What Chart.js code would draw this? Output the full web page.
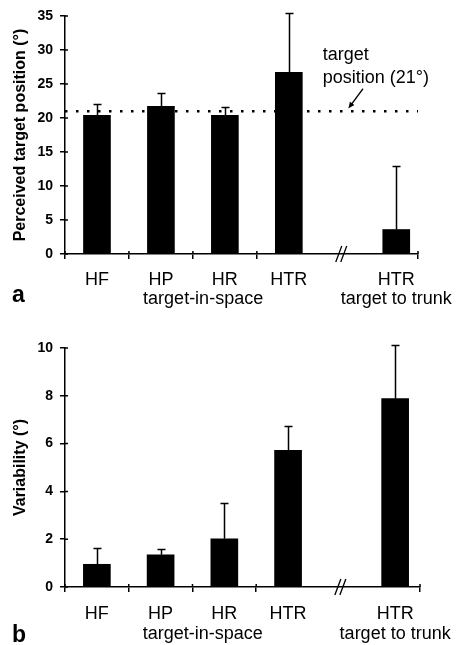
<!DOCTYPE html>
<html>
<head>
<meta charset="utf-8">
<script src="https://cdn.jsdelivr.net/npm/chart.js@4.4.1/dist/chart.umd.min.js"></script>
<style>
  html, body { margin: 0; padding: 0; background: #fff; }
  #wrap { width: 462px; height: 645px; }
  canvas { display: block; }
</style>
</head>
<body>
<div id="wrap">
  <canvas id="chartA" width="462" height="320"></canvas>
  <canvas id="chartB" width="462" height="325"></canvas>
</div>
<script>
// --- data ---
const categories = ['HF', 'HP', 'HR', 'HTR', 'HTR'];
const categoryPos = [0.5, 1.5, 2.5, 3.5, 5.18];
const groupLabels = ['target-in-space', 'target to trunk'];
const groupPos = [2.16, 5.18];
const breakPos = 4.32;

const perceivedMean = [20.4, 21.7, 20.4, 26.7, 3.6];
const perceivedSD = [1.7, 2.0, 1.2, 8.7, 9.4];
const perceivedTicks = [0, 5, 10, 15, 20, 25, 30, 35];
const targetPosition = 21;

const variabilityMean = [0.95, 1.35, 2.02, 5.72, 7.88];
const variabilitySD = [0.68, 0.25, 1.5, 1.0, 2.25];
const variabilityTicks = [0, 2, 4, 6, 8, 10];

const FONT = '"Liberation Sans", Arial, Helvetica, sans-serif';
Chart.defaults.font.family = FONT;
Chart.defaults.color = '#000';

// error bars, inner tick marks, category labels, axis break, panel letter, note
const decorations = {
  id: 'decorations',
  afterDatasetsDraw(chart, args, opts) {
    const ctx = chart.ctx;
    const xs = chart.scales.x, ys = chart.scales.y;
    const area = chart.chartArea;
    ctx.save();
    ctx.strokeStyle = '#000';
    ctx.fillStyle = '#000';

    // error bars (upper only)
    ctx.lineWidth = 1.5;
    opts.means.forEach((m, i) => {
      const px = Math.round(xs.getPixelForValue(categoryPos[i])) + 0.5;
      const y0 = ys.getPixelForValue(m);
      const y1 = Math.round(ys.getPixelForValue(m + opts.sd[i])) + 0.5;
      ctx.beginPath();
      ctx.moveTo(px, y0);
      ctx.lineTo(px, y1);
      ctx.moveTo(px - 4, y1);
      ctx.lineTo(px + 4, y1);
      ctx.stroke();
    });

    // tick marks crossing into the plot a little
    ctx.beginPath();
    ys.ticks.forEach(t => {
      const py = ys.getPixelForValue(t.value);
      ctx.moveTo(area.left, py);
      ctx.lineTo(area.left + 3, py);
    });
    xs.ticks.forEach(t => {
      const px = xs.getPixelForValue(t.value);
      ctx.moveTo(px, area.bottom);
      ctx.lineTo(px, area.bottom - 3);
    });
    ctx.stroke();

    // axis break
    const bx = xs.getPixelForValue(breakPos);
    const by = area.bottom;
    ctx.lineWidth = 1.3;
    [-2.5, 2.5].forEach(dx => {
      ctx.beginPath();
      ctx.moveTo(bx + dx - 3, by + 8);
      ctx.lineTo(bx + dx + 3, by - 8);
      ctx.stroke();
    });

    // category labels
    ctx.font = '18px ' + FONT;
    ctx.textAlign = 'center';
    ctx.textBaseline = 'alphabetic';
    categories.forEach((c, i) => {
      ctx.fillText(c, xs.getPixelForValue(categoryPos[i]), area.bottom + opts.labelGap);
    });
    groupLabels.forEach((g, i) => {
      ctx.fillText(g, xs.getPixelForValue(groupPos[i]), area.bottom + opts.groupGap);
    });

    // panel letter
    ctx.font = 'bold 23px ' + FONT;
    ctx.textAlign = 'left';
    ctx.fillText(opts.letter, 12, chart.height - opts.letterBottom);

    // note with arrow
    if (opts.note) {
      const n = opts.note;
      ctx.font = '18px ' + FONT;
      ctx.textAlign = 'left';
      n.lines.forEach((t, i) => {
        ctx.fillText(t, xs.getPixelForValue(n.x), ys.getPixelForValue(n.y[i]));
      });
      const ax0 = xs.getPixelForValue(n.arrow[0]), ay0 = ys.getPixelForValue(n.arrow[1]);
      const ax1 = xs.getPixelForValue(n.arrow[2]), ay1 = ys.getPixelForValue(n.arrow[3]);
      const ang = Math.atan2(ay1 - ay0, ax1 - ax0);
      ctx.lineWidth = 1.3;
      ctx.beginPath();
      ctx.moveTo(ax0, ay0);
      ctx.lineTo(ax1 - 3 * Math.cos(ang), ay1 - 3 * Math.sin(ang));
      ctx.stroke();
      ctx.beginPath();
      ctx.moveTo(ax1, ay1);
      ctx.lineTo(ax1 - 7 * Math.cos(ang - 0.4), ay1 - 7 * Math.sin(ang - 0.4));
      ctx.lineTo(ax1 - 7 * Math.cos(ang + 0.4), ay1 - 7 * Math.sin(ang + 0.4));
      ctx.closePath();
      ctx.fill();
    }
    ctx.restore();
  }
};

function makeChart(id, cfg) {
  const datasets = [{
    type: 'bar',
    data: cfg.means.map((v, i) => ({ x: categoryPos[i], y: v })),
    backgroundColor: '#000',
    borderWidth: 0,
    barThickness: 27,
    order: 1
  }];
  if (cfg.refLine !== undefined) {
    datasets.push({
      type: 'line',
      data: [{ x: 0, y: cfg.refLine }, { x: cfg.xMax, y: cfg.refLine }],
      borderColor: '#000',
      borderWidth: 2.5,
      borderDash: [2.5, 8.5],
      borderCapStyle: 'butt',
      pointRadius: 0,
      order: 2
    });
  }
  return new Chart(document.getElementById(id), {
    type: 'bar',
    data: { datasets: datasets },
    plugins: [decorations],
    options: {
      responsive: false,
      animation: false,
      events: [],
      layout: { padding: { top: cfg.top, right: cfg.right, left: 0, bottom: 0 } },
      plugins: {
        legend: { display: false },
        tooltip: { enabled: false },
        decorations: {
          means: cfg.means, sd: cfg.sd, letter: cfg.letter,
          labelGap: cfg.labelGap, groupGap: cfg.groupGap,
          letterBottom: cfg.letterBottom, note: cfg.note
        }
      },
      scales: {
        x: {
          type: 'linear', min: 0, max: cfg.xMax, offset: false,
          grid: { offset: false, drawOnChartArea: false, drawTicks: true, tickLength: 5, color: '#000', lineWidth: 1.5 },
          border: { color: '#000', width: 1.5 },
          ticks: { display: false },
          afterBuildTicks: s => { s.ticks = [0, 1, 2, 3, cfg.xMax].map(v => ({ value: v })); },
          afterFit: s => { s.height = cfg.xHeight; }
        },
        y: {
          min: 0, max: cfg.ticks[cfg.ticks.length - 1],
          grid: { drawOnChartArea: false, drawTicks: true, tickLength: 5, color: '#000', lineWidth: 1.5 },
          border: { color: '#000', width: 1.5 },
          ticks: { color: '#000', font: { weight: 'bold', size: 14 }, padding: 7 },
          title: { display: true, text: cfg.title, color: '#000', font: { weight: 'bold', size: 16 }, padding: { top: 11, bottom: 0 } },
          afterBuildTicks: s => { s.ticks = cfg.ticks.map(v => ({ value: v })); },
          afterFit: s => { s.width = 65; }
        }
      }
    }
  });
}

makeChart('chartA', {
  means: perceivedMean, sd: perceivedSD, ticks: perceivedTicks,
  title: 'Perceived target position (°)', refLine: targetPosition,
  xMax: 5.52, top: 16, right: 44, xHeight: 66,
  labelGap: 31, groupGap: 50, letter: 'a', letterBottom: 18,
  note: { lines: ['target', 'position (21°)'], x: 4.03, y: [28.5, 25.1], arrow: [4.66, 24.3, 4.43, 21.4] }
});

makeChart('chartB', {
  means: variabilityMean, sd: variabilitySD, ticks: variabilityTicks,
  title: 'Variability (°)',
  xMax: 5.57, top: 28, right: 42, xHeight: 58,
  labelGap: 32, groupGap: 52, letter: 'b', letterBottom: 3
});
</script>
</body>
</html>
